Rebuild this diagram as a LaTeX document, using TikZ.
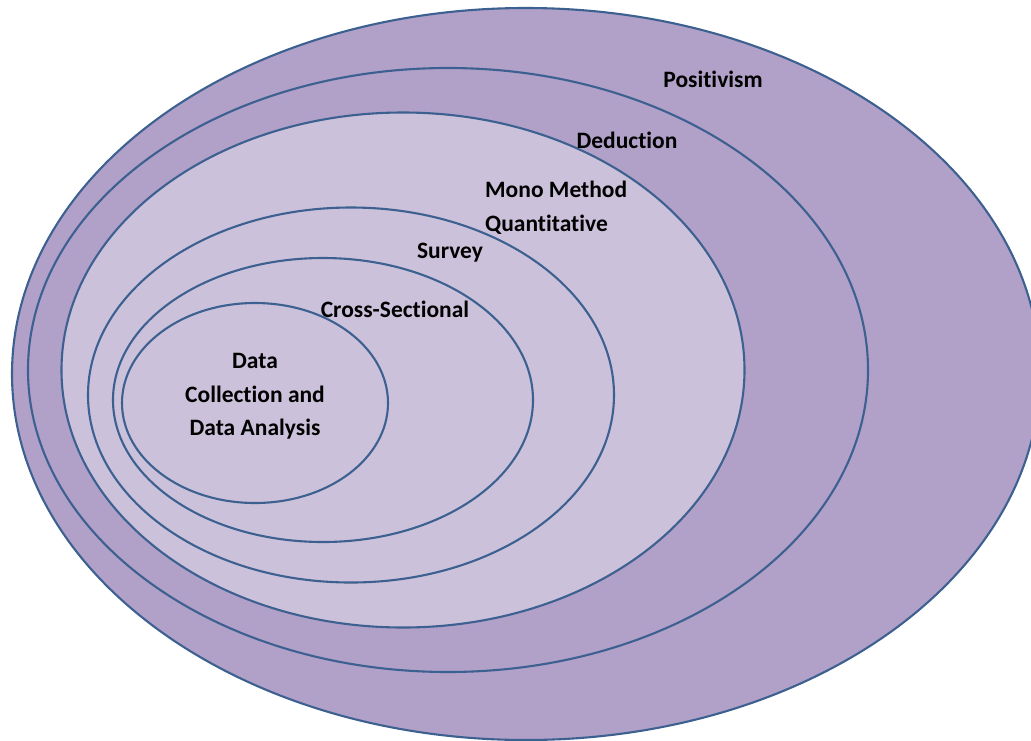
\documentclass[tikz,border=0pt]{standalone}
\usepackage{fontspec}
\setmainfont[RawFeature={-liga}]{Carlito}
\usepackage{xcolor}
\usepackage{tikz}
\usetikzlibrary{shapes,positioning}
\definecolor{ringdark}{HTML}{B1A0C7}
\definecolor{ringlight}{HTML}{CCC1DA}
\definecolor{ringline}{HTML}{3C6090}
\tikzset{ring/.style={ellipse,draw=ringline,line width=2.1pt,inner sep=0pt,outer sep=0pt}}
\tikzset{lbl/.style={font=\bfseries\fontsize{23.5}{34}\selectfont,inner sep=0pt,anchor=base}}

\begin{document}
\begin{tikzpicture}[x=1pt,y=-1pt]
    \useasboundingbox (0,0) rectangle (1031,740);
    \node[ring,fill=ringdark,minimum width=1028pt,minimum height=732pt] (pos) at (526,374) {};
    \node[ring,fill=ringdark,minimum width=840pt,minimum height=604pt] (ded) at (448,370) {};
    \node[ring,fill=ringlight,minimum width=683pt,minimum height=515pt] (mono) at (403,370) {};
    \node[ring,fill=ringlight,minimum width=526pt,minimum height=375pt] (sur) at (351,395) {};
    \node[ring,fill=ringlight,minimum width=420pt,minimum height=284pt] (cross) at (323,400) {};
    \node[ring,fill=ringlight,minimum width=266pt,minimum height=200pt] (data) at (255,403) {};

    \node[lbl] (poslbl) at (713,87) {Positivism};
    \node[lbl] (dedlbl) at (627,148) {Deduction};
    \node[lbl,anchor=base west] (monolbl) at (485,197) {Mono Method};
    \node[lbl,anchor=base west] (quantlbl) at (485,231) {Quantitative};
    \node[lbl] (surlbl) at (450,258) {Survey};
    \node[lbl] (crosslbl) at (395,317) {Cross-Sectional};
    \node[lbl] (datalbl1) at (255,368) {Data};
    \node[lbl] (datalbl2) at (255,402) {Collection and};
    \node[lbl] (datalbl3) at (255,435) {Data Analysis};
\end{tikzpicture}
\end{document}
